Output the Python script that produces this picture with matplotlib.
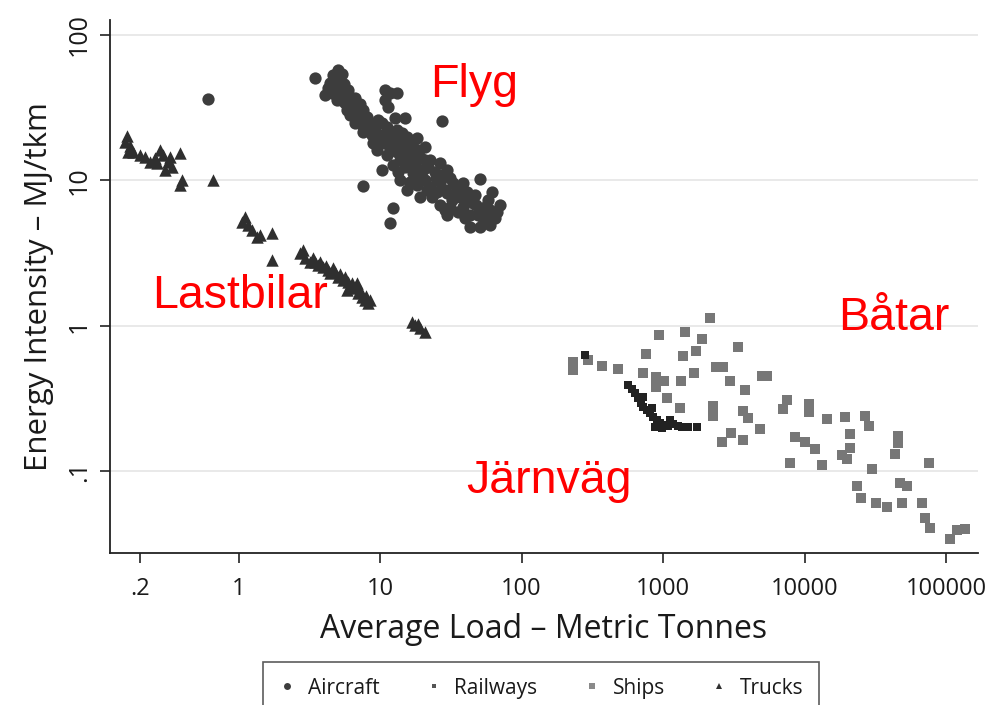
import matplotlib.pyplot as plt
from matplotlib.lines import Line2D
from matplotlib.ticker import FixedLocator, FixedFormatter, NullLocator

# average load (tonnes) and energy intensity (MJ/tkm) per mode
aircraft_load = [3.47, 5.04, 4.65, 5.38, 4.88, 4.43, 4.96, 5.56, 4.08, 4.57, 5.47, 6.13, 6.65,
                 4.96, 5.65, 6.33, 6.87, 6.65, 7.57, 8.07, 8.49, 7.57, 5.93, 5.21, 7.21,
                 10.8, 11.7, 13.2, 10.8, 11.4, 15.0, 9.20, 10.3, 11.2, 9.98, 11.7, 13.2,
                 8.91, 10.8, 13.8, 15.5, 18.2, 9.51, 13.2, 14.5, 17.1, 20.8, 10.3, 13.8,
                 16.3, 19.1, 12.1, 12.7, 9.67, 8.77, 11.2, 15.0, 17.7, 12.3, 22.5, 26.5,
                 29.7, 17.1, 20.1, 13.8, 15.5, 19.1, 22.5, 26.5, 32.7, 38.5, 24.4, 20.8,
                 16.3, 28.7, 33.8, 23.3, 18.2, 29.7, 36.7, 41.1, 31.2, 38.5, 45.3, 50.8,
                 59.8, 67.0, 29.7, 53.3, 64.9, 43.2, 50.8, 35.5, 43.2, 46.9, 57.9, 26.5,
                 70.4, 27.4, 50.8, 61.8, 7.57, 12.3, 11.7, 0.608,
                 4.28, 4.80, 5.30, 5.84, 6.13, 6.98, 7.45, 7.95, 5.65, 6.44,
                 9.35, 10.5, 11.7, 12.9, 14.3, 15.7, 16.8, 18.5, 20.8, 21.8,
                 24.8, 27.4, 31.2, 34.9, 37.9, 41.8, 47.6, 55.1, 62.8, 57.0,
                 13.4, 15.0, 19.1, 21.4, 25.2, 32.2, 28.7, 39.8, 49.2, 59.8]
aircraft_mj = [50.6, 57.4, 53.1, 54.0, 49.1, 46.8, 43.9, 46.1, 38.7, 39.9, 40.6, 37.5, 36.9,
               35.7, 34.1, 31.5, 29.1, 24.8, 30.5, 27.3, 24.8, 21.5, 41.9, 38.7, 33.6,
               41.9, 39.9, 39.9, 35.7, 32.0, 26.9, 22.2, 24.8, 23.3, 19.9, 21.2, 22.2,
               18.1, 18.1, 19.0, 19.9, 19.6, 16.2, 15.7, 17.0, 17.0, 17.0, 11.8, 13.8,
               13.8, 14.5, 19.0, 26.9, 26.1, 20.5, 15.0, 15.7, 12.8, 12.8, 13.8, 13.2,
               11.8, 11.3, 11.8, 10.1, 8.60, 7.70, 9.02, 9.77, 9.61, 9.61, 11.4, 10.1,
               9.77, 8.60, 7.94, 7.70, 9.31, 8.20, 7.70, 8.34, 6.58, 6.58, 7.00, 6.27,
               6.27, 6.08, 5.79, 5.52, 5.52, 4.79, 4.79, 6.08, 5.79, 7.94, 7.34, 6.79,
               6.79, 25.6, 10.2, 8.34, 9.17, 6.47, 5.11, 36.3,
               43.2, 41.9, 35.7, 30.5, 28.2, 26.1, 24.1, 22.9, 38.7, 34.1,
               19.0, 20.5, 16.7, 17.5, 21.2, 17.5, 15.0, 16.2, 13.8, 12.4,
               10.4, 10.9, 10.4, 8.88, 8.60, 7.34, 6.79, 6.58, 5.79, 5.19,
               11.4, 12.4, 10.6, 8.60, 8.34, 7.34, 6.27, 5.52, 5.79, 4.94]

truck_load = [0.163, 0.157, 0.171, 0.165, 0.179, 0.218, 0.237, 0.257, 0.279, 0.292, 0.265,
              0.317, 0.302, 0.339, 0.386, 0.398, 0.386, 0.659, 0.201, 0.328,
              1.11, 1.06, 1.16, 1.24, 1.35, 1.42, 1.72, 1.72, 2.72, 2.94, 3.20, 3.47, 3.64,
              3.95, 4.28, 4.43, 4.80, 5.04, 5.47, 5.93, 6.13, 6.65, 6.98, 7.45, 7.82, 8.21,
              6.87, 5.84, 16.8, 17.7, 19.1, 20.8,
              2.85, 3.36, 3.76, 4.15, 4.65, 5.21, 5.65, 6.33, 7.21, 7.95, 8.49, 18.5]
truck_mj = [20.2, 18.4, 17.3, 15.7, 15.7, 14.5, 13.4, 14.3, 16.2, 15.0, 13.2,
            13.4, 11.8, 12.4, 15.5, 10.1, 9.31, 10.1, 15.0, 14.5,
            5.61, 5.19, 4.94, 4.57, 4.09, 4.22, 4.36, 2.84, 3.17, 2.93, 2.75, 2.75, 2.63,
            2.54, 2.43, 2.31, 2.35, 2.17, 2.07, 2.01, 1.82, 1.85, 1.69, 1.58, 1.51, 1.44,
            1.98, 1.77, 1.07, 1.02, 0.969, 0.91,
            3.33, 2.93, 2.75, 2.58, 2.50, 2.28, 2.17, 1.98, 1.77, 1.61, 1.51, 1.03]

ship_load = [231, 231, 295, 370, 480, 935, 1428, 1883, 2145, 757, 1382, 1707, 3383,
             721, 891, 1014, 891, 1337, 1652, 2364, 2650, 2970, 1065, 1316, 2250, 2250,
             3792, 3670, 3985, 4838, 5000, 5423, 3020, 2608, 3670, 7518, 7040, 10740,
             10740, 14390, 19280, 26710, 28510, 8554, 10070, 11840, 7881, 13270, 20920,
             18370, 19920, 20920, 45700, 45700, 43530, 75820, 29920, 23450, 25020, 31930,
             38180, 47300, 52960, 48860, 67610, 70990, 77070, 106700, 119500, 136100]
ship_mj = [0.566, 0.499, 0.584, 0.531, 0.506, 0.867, 0.91, 0.814, 1.135, 0.642, 0.622,
           0.673, 0.717, 0.475, 0.446, 0.419, 0.381, 0.419, 0.475, 0.523, 0.523, 0.419,
           0.32, 0.273, 0.282, 0.241, 0.363, 0.261, 0.233, 0.196, 0.453, 0.453, 0.184,
           0.16, 0.165, 0.31, 0.269, 0.291, 0.256, 0.23, 0.237, 0.241, 0.206, 0.173, 0.16,
           0.143, 0.114, 0.111, 0.181, 0.13, 0.122, 0.145, 0.175, 0.157, 0.132, 0.114,
           0.104, 0.0795, 0.0657, 0.0608, 0.057, 0.0834, 0.0795, 0.0608, 0.0608, 0.0479,
           0.0409, 0.0344, 0.0396, 0.0403]

rail_load = [281, 565, 603, 633, 665, 698, 721, 770, 808, 849, 906, 951, 998, 1083, 1175,
             1275, 877, 984, 1361, 1500, 1737, 721, 835, 1119]
rail_mj = [0.632, 0.393, 0.369, 0.347, 0.32, 0.296, 0.278, 0.265, 0.252, 0.237, 0.226,
           0.215, 0.209, 0.206, 0.212, 0.206, 0.202, 0.199, 0.202, 0.202, 0.202, 0.325,
           0.273, 0.226]

x_ticks = [0.2, 1, 10, 100, 1000, 10000, 100000]
x_labels = [".2", "1", "10", "100", "1000", "10000", "100000"]
y_ticks = [0.1, 1, 10, 100]
y_labels = [".1", "1", "10", "100"]

plt.rcParams['font.family'] = ['Open Sans', 'DejaVu Sans']

fig = plt.figure(figsize=(9.88, 7.05), dpi=100)
ax = fig.add_axes([0.1113, 0.2156, 0.8786, 0.756])

c_air, c_rail, c_ship, c_truck = '#3d3d3d', '#222222', '#777777', '#2f2f2f'

ax.scatter(ship_load, ship_mj, s=46, marker='s', color=c_ship, linewidths=0, zorder=3)
ax.scatter(rail_load, rail_mj, s=32, marker='s', color=c_rail, linewidths=0, zorder=4)
ax.scatter(aircraft_load, aircraft_mj, s=78, marker='o', color=c_air, linewidths=0, zorder=4)
ax.scatter(truck_load, truck_mj, s=80, marker='^', color=c_truck, linewidths=0, zorder=4)

ax.set_xscale('log')
ax.set_yscale('log')
ax.set_xlim(0.1234, 168000)
ax.set_ylim(0.0275, 126.8)

ax.xaxis.set_major_locator(FixedLocator(x_ticks))
ax.xaxis.set_major_formatter(FixedFormatter(x_labels))
ax.yaxis.set_major_locator(FixedLocator(y_ticks))
ax.yaxis.set_major_formatter(FixedFormatter(y_labels))
ax.xaxis.set_minor_locator(NullLocator())
ax.yaxis.set_minor_locator(NullLocator())

for side in ['top', 'right']:
    ax.spines[side].set_visible(False)
for side in ['left', 'bottom']:
    ax.spines[side].set_linewidth(1.3)
    ax.spines[side].set_color('#222222')

ax.grid(axis='y', color='#e9e9e9', linewidth=1.4, zorder=0)
ax.set_axisbelow(True)

ax.tick_params(axis='both', length=7, width=1.2, color='#222222', labelsize=17,
               labelcolor='#1a1a1a')
ax.tick_params(axis='x', pad=10)
ax.tick_params(axis='y', pad=6, labelsize=18, labelrotation=90)
for lab in ax.get_yticklabels():
    lab.set_va('center')

ax.set_xlabel("Average Load \u2013 Metric Tonnes", fontsize=23, color='#1a1a1a', labelpad=9)
ax.set_ylabel("Energy Intensity \u2013 MJ/tkm", fontsize=22.5, color='#1a1a1a', labelpad=9)

# mode names in Swedish
red_kw = dict(color='#ff0000', fontsize=33.5, family='Liberation Sans', ha='left', va='baseline')
fig.text(430 / 988, 1 - 97 / 705, "Flyg", **red_kw)
fig.text(152 / 988, 1 - 308 / 705, "Lastbilar", **red_kw)
fig.text(838 / 988, 1 - 330 / 705, "Båtar", **red_kw)
fig.text(466 / 988, 1 - 493 / 705, "Järnväg", **red_kw)

handles = [
    Line2D([], [], linestyle='none', marker='o', markersize=5, color=c_air, markeredgewidth=0),
    Line2D([], [], linestyle='none', marker='s', markersize=3.5, color='#555555', markeredgewidth=0),
    Line2D([], [], linestyle='none', marker='s', markersize=5, color='#8a8a8a', markeredgewidth=0),
    Line2D([], [], linestyle='none', marker='^', markersize=5, color=c_truck, markeredgewidth=0),
]
leg = fig.legend(handles, ["Aircraft", "Railways", "Ships", "Trucks"], ncol=4,
                 loc='upper center', bbox_to_anchor=(541 / 988, 1 - 662 / 705),
                 borderaxespad=0, fontsize=15, frameon=True, fancybox=False,
                 handlelength=0.8, handletextpad=0.6, columnspacing=2.2, borderpad=0.75)
leg.get_frame().set_edgecolor('#333333')
leg.get_frame().set_linewidth(1.2)
for t in leg.get_texts():
    t.set_color('#1a1a1a')

fig.savefig('out.png', dpi=100)
